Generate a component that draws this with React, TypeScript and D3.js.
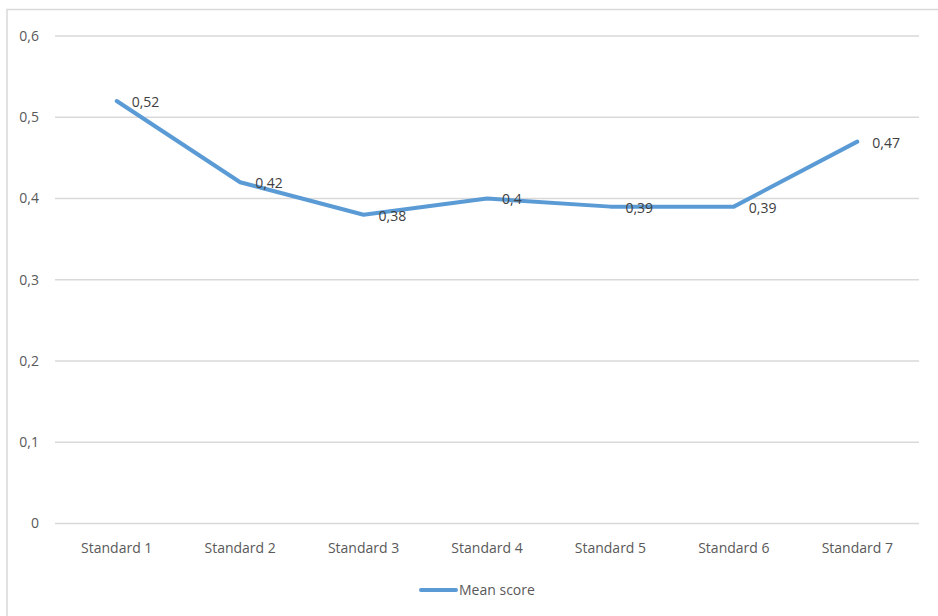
import React from "react";
import * as d3 from "d3";

const categories = ["Standard 1", "Standard 2", "Standard 3", "Standard 4", "Standard 5", "Standard 6", "Standard 7"];
const meanScores = [0.52, 0.42, 0.38, 0.4, 0.39, 0.39, 0.47];
const yTicks = [0, 0.1, 0.2, 0.3, 0.4, 0.5, 0.6];
const seriesName = "Mean score";

const W = 938;
const H = 616;
const left = 55;
const right = 919;
const top = 36;
const bottom = 523.5;
const FONT = "'Open Sans', 'Noto Sans', sans-serif";
const FS = 14;
const TEXT = "#595959";
const LINE = "#5B9BD5";

const fmt = (v: number) => String(v).replace(".", ",");

export default function App() {
  const x = d3.scaleBand<string>().domain(categories).range([left, right]);
  const y = d3.scaleLinear().domain([0, 0.6]).range([bottom, top]);
  const cx = (c: string) => (x(c) as number) + x.bandwidth() / 2;

  const line = d3
    .line<number>()
    .x((_, i) => cx(categories[i]))
    .y((d) => y(d));

  return (
    <svg
      width={W}
      height={H}
      style={{ position: "absolute", left: 0, top: 0, background: "#fff" }}
      fontFamily={FONT}
    >
      <rect x={7} y={9.5} width={W} height={H} fill="none" stroke="#d9d9d9" strokeWidth={1.5} />
      {yTicks.map((t) => (
        <g key={t}>
          <line x1={left} x2={right} y1={y(t)} y2={y(t)} stroke="#d9d9d9" strokeWidth={1.3} />
          <text x={39} y={y(t)} dy="0.35em" textAnchor="end" fontSize={FS} fill={TEXT}>
            {fmt(t)}
          </text>
        </g>
      ))}
      {categories.map((c) => (
        <text key={c} x={cx(c)} y={553} textAnchor="middle" fontSize={FS} fill={TEXT}>
          {c}
        </text>
      ))}
      <path
        d={line(meanScores) ?? ""}
        fill="none"
        stroke={LINE}
        strokeWidth={4}
        strokeLinejoin="round"
        strokeLinecap="round"
      />
      {meanScores.map((v, i) => (
        <text
          key={i}
          x={cx(categories[i]) + 15}
          y={y(v) + 1}
          dy="0.35em"
          fontSize={FS}
          fill="#404040"
        >
          {fmt(v)}
        </text>
      ))}
      <line x1={421} x2={456} y1={590} y2={590} stroke={LINE} strokeWidth={4} strokeLinecap="round" />
      <text x={459} y={590} dy="0.35em" fontSize={FS} fill={TEXT}>
        {seriesName}
      </text>
    </svg>
  );
}
